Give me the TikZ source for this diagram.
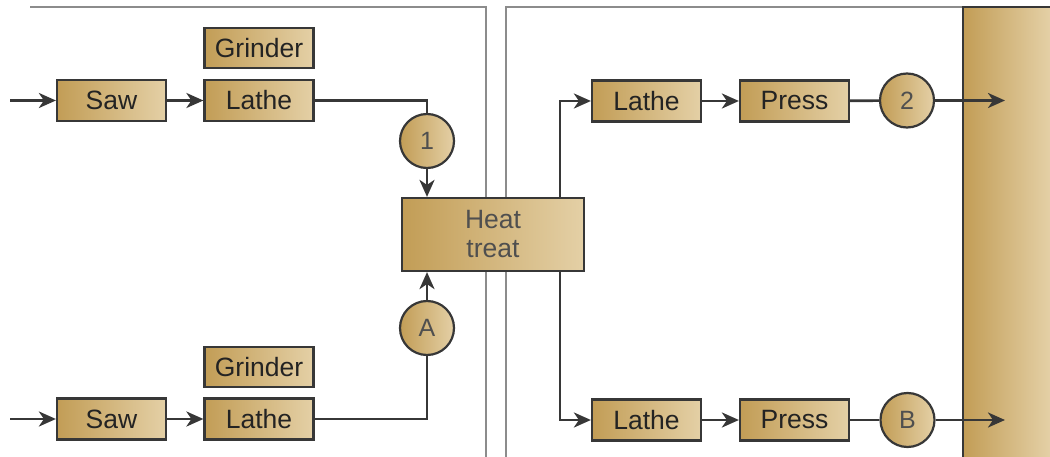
\documentclass[tikz,border=0pt]{standalone}
\usepackage{fontspec}
\setmainfont{Liberation Sans}
\usetikzlibrary{arrows.meta,calc}
\definecolor{goldL}{RGB}{194,157,86}
\definecolor{goldR}{RGB}{228,208,166}
\definecolor{ink}{RGB}{55,55,55}
\definecolor{txt}{RGB}{35,35,35}
\definecolor{frame}{RGB}{140,140,140}
\tikzset{
  box/.style={draw=ink, line width=2.2pt, left color=goldL, right color=goldR,
    minimum height=41pt, minimum width=109pt, inner sep=0pt, text=txt,
    font=\fontsize{26.5}{29}\selectfont},
  heatbox/.style={box, minimum width=182pt, minimum height=73pt, align=center,
    text=txt!80!white},
  stage/.style={circle, draw=ink, line width=2.2pt, left color=goldL, right color=goldR,
    minimum size=54pt, inner sep=0pt, text=txt!80!white,
    font=\fontsize{25}{28}\selectfont},
  flow/.style={draw=ink, line width=2.7pt},
  arr/.style={flow, -{Stealth[length=17pt,width=15pt,inset=5pt]}},
  panel/.style={draw=frame, line width=2.5pt}
}
\begin{document}
\begin{tikzpicture}[x=1pt,y=-1pt]
\useasboundingbox (0,0) rectangle (1050,457);
% panel frames
\draw[panel] (30,7) -- (486,7) -- (486,457);
\draw[panel] (506,457) -- (506,7) -- (1050,7);
% output column
\fill[left color=goldL, right color=goldR] (963,7) rectangle (1050,457);
\draw[draw=ink, line width=2.5pt] (963,457) -- (963,7) -- (1050,7);
% nodes
\node[box] (saw1) at (111.5,100.5) {Saw};
\node[box] (lat1) at (259,100.5) {Lathe};
\node[box, minimum height=40pt] (gr1) at (259,48) {Grinder};
\node[stage] (c1) at (427,141) {1};
\node[heatbox] (heat) at (493,234.5) {Heat\\treat};
\node[stage] (cA) at (427,328) {A};
\node[box] (saw2) at (111.5,419) {Saw};
\node[box] (lat2) at (259,419) {Lathe};
\node[box, minimum height=40pt] (gr2) at (259,367) {Grinder};
\node[box] (lr1) at (646.5,101) {Lathe};
\node[box] (pr1) at (794.5,101) {Press};
\node[stage] (c2) at (907,100.5) {2};
\node[box] (lr2) at (646.5,420) {Lathe};
\node[box] (pr2) at (794.5,420) {Press};
\node[stage] (cB) at (907.5,420) {B};
\coordinate (in1) at (10,100.5);
\coordinate (in2) at (10,419);
\coordinate (out1) at (1005,100.5);
\coordinate (out2) at (1005,420);
% connectors
\draw[arr] (in1) -- (saw1);
\draw[arr] (saw1) -- (lat1);
\draw[flow] (lat1.east) -| (c1.north);
\draw[arr] (c1.south) -- (c1.south |- heat.north);
\draw[arr] (in2) -- (saw2);
\draw[arr] (saw2) -- (lat2);
\draw[flow] (lat2.east) -| (cA.south);
\draw[arr] (cA.north) -- (cA.north |- heat.south);
\draw[arr] ([xshift=-25pt]heat.north east) |- (lr1.west);
\draw[arr] ([xshift=-25pt]heat.south east) |- (lr2.west);
\draw[arr] (lr1) -- (pr1);
\draw[flow] (pr1) -- (c2);
\draw[arr] (c2) -- (out1);
\draw[arr] (lr2) -- (pr2);
\draw[flow] (pr2) -- (cB);
\draw[arr] (cB) -- (out2);
\end{tikzpicture}
\end{document}
